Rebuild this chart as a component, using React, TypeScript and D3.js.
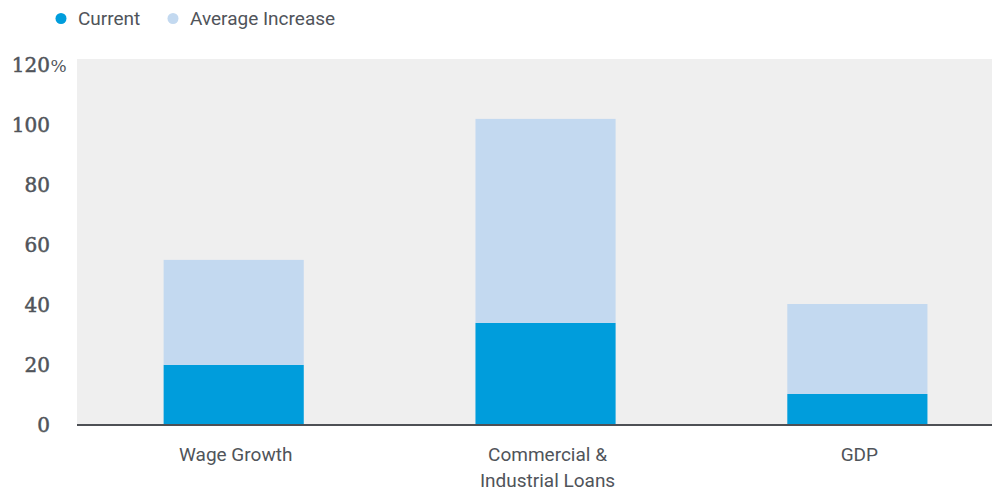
import React from "react";
import * as d3 from "d3";

const categories = ["Wage Growth", "Commercial & Industrial Loans", "GDP"];
const categoryLines = [["Wage Growth"], ["Commercial &", "Industrial Loans"], ["GDP"]];
const current = [19.7, 33.7, 10];
const averageIncrease = [35, 68, 30];
const yTicks = [0, 20, 40, 60, 80, 100, 120];
const seriesNames = ["Current", "Average Increase"];
const seriesColors = ["#009ddc", "#c3d9f0"];

const W = 992;
const H = 491;
const plotLeft = 77;
const plotRight = 992;
const plotTop = 59;
const baseY = 424;

export default function App() {
  const x = d3
    .scaleBand<string>()
    .domain(categories)
    .range([plotLeft, plotRight])
    .paddingInner(0.5506)
    .paddingOuter(0.2424)
    .align(0.573);
  const y = d3.scaleLinear().domain([0, 120]).range([baseY, 64]);

  const stacked = d3
    .stack<any>()
    .keys(["current", "avg"])(
      categories.map((c, i) => ({ cat: c, current: current[i], avg: averageIncrease[i] }))
    );

  const sansFont = "'Roboto', 'Liberation Sans', sans-serif";
  const serifFont = "'DejaVu Serif', 'Liberation Serif', serif";
  const textColor = "#50545a";

  return (
    <svg width={W} height={H} style={{ position: "absolute", left: 0, top: 0 }}>
      {/* legend */}
      {seriesNames.map((s, i) => {
        const lx = i === 0 ? 61 : 173;
        return (
          <g key={s}>
            <circle cx={lx} cy={18.5} r={5.5} fill={seriesColors[i]} />
            <text x={lx + 17} y={24.5} fontFamily={sansFont} fontSize={19} fill={textColor}>
              {s}
            </text>
          </g>
        );
      })}
      {/* plot background */}
      <rect x={plotLeft} y={plotTop} width={plotRight - plotLeft} height={baseY - plotTop} fill="#efefef" />
      {/* bars */}
      {stacked.map((layer, li) => (
        <g key={li} fill={seriesColors[li]}>
          {layer.map((d, i) => (
            <rect
              key={i}
              x={x(categories[i])}
              y={y(d[1])}
              width={x.bandwidth()}
              height={y(d[0]) - y(d[1])}
            />
          ))}
        </g>
      ))}
      {/* baseline */}
      <line x1={plotLeft} x2={plotRight} y1={baseY + 1} y2={baseY + 1} stroke="#4d5055" strokeWidth={2} />
      {/* y tick labels */}
      {yTicks.map((t) => (
        <g key={t}>
          <text
            x={50}
            y={y(t) + 8}
            textAnchor="end"
            fontFamily={serifFont}
            fontSize={20}
            fill={textColor}
            stroke={textColor}
            strokeWidth={0.5}
          >
            {t}
          </text>
          {t === 120 ? (
            <text x={50.5} y={y(t) + 8} fontFamily={serifFont} fontSize={17} fill={textColor}>
              %
            </text>
          ) : null}
        </g>
      ))}
      {/* x labels */}
      {categories.map((c, i) => {
        const cx = (x(c) as number) + x.bandwidth() / 2 + 2;
        return (
          <text key={c} x={cx} y={461} textAnchor="middle" fontFamily={sansFont} fontSize={19} fill={textColor}>
            {categoryLines[i].map((line, li) => (
              <tspan key={li} x={cx} dy={li === 0 ? 0 : 26}>
                {line}
              </tspan>
            ))}
          </text>
        );
      })}
    </svg>
  );
}
